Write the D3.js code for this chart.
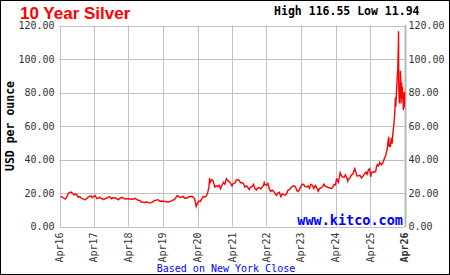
<!DOCTYPE html>
<html>
<head>
<meta charset="utf-8">
<script src="https://cdn.jsdelivr.net/npm/d3@7"></script>
<style>
  body { margin: 0; background: #fff; }
  svg { display: block; }
</style>
</head>
<body>
<div class="canvas"></div>
<script>
const title = "10 Year Silver";
const highLow = "High 116.55 Low 11.94";

const yTicks = [0, 20, 40, 60, 80, 100, 120];
const xTicks = ["2016-04-01", "2017-04-01", "2018-04-01", "2019-04-01", "2020-04-01",
  "2021-04-01", "2022-04-01", "2023-04-01", "2024-04-01", "2025-04-01", "2026-04-01"];
const xTickLabels = ["Apr16", "Apr17", "Apr18", "Apr19", "Apr20", "Apr21",
  "Apr22", "Apr23", "Apr24", "Apr25", "Apr26"];

// NY close (about two points a month, more in the spike)
const dates = [
  "2016-04-12", "2016-05-01", "2016-05-15", "2016-06-01", "2016-06-15", "2016-07-01", "2016-07-15", "2016-08-01", "2016-08-15", "2016-09-01", "2016-09-15", "2016-10-01", "2016-10-15", "2016-11-01", "2016-11-15", "2016-12-01", "2016-12-15",
  "2017-01-01", "2017-01-15", "2017-02-01", "2017-02-15", "2017-03-01", "2017-03-15", "2017-04-01", "2017-04-15", "2017-05-01", "2017-05-15", "2017-06-01", "2017-06-15", "2017-07-01", "2017-07-15", "2017-08-01", "2017-08-15", "2017-09-01", "2017-09-15", "2017-10-01", "2017-10-15", "2017-11-01", "2017-11-15", "2017-12-01", "2017-12-15",
  "2018-01-01", "2018-01-15", "2018-02-01", "2018-02-15", "2018-03-01", "2018-03-15", "2018-04-01", "2018-04-15", "2018-05-01", "2018-05-15", "2018-06-01", "2018-06-15", "2018-07-01", "2018-07-15", "2018-08-01", "2018-08-15", "2018-09-01", "2018-09-15", "2018-10-01", "2018-10-15", "2018-11-01", "2018-11-15", "2018-12-01", "2018-12-15",
  "2019-01-01", "2019-01-15", "2019-02-01", "2019-02-15", "2019-03-01", "2019-03-15", "2019-04-01", "2019-04-15", "2019-05-01", "2019-05-15", "2019-06-01", "2019-06-15", "2019-07-01", "2019-07-15", "2019-08-01", "2019-08-15", "2019-09-01", "2019-09-15", "2019-10-01", "2019-10-15", "2019-11-01", "2019-11-15", "2019-12-01", "2019-12-15",
  "2020-01-01", "2020-01-15", "2020-02-01", "2020-02-15", "2020-03-01", "2020-03-18", "2020-04-01", "2020-04-15", "2020-05-01", "2020-05-15", "2020-06-01", "2020-06-15", "2020-07-01", "2020-07-15", "2020-08-01", "2020-08-07", "2020-08-15", "2020-09-01", "2020-09-15", "2020-10-01", "2020-10-15", "2020-11-01", "2020-11-15", "2020-12-01", "2020-12-15",
  "2021-01-01", "2021-01-15", "2021-02-01", "2021-02-15", "2021-03-01", "2021-03-15", "2021-04-01", "2021-04-15", "2021-05-01", "2021-05-15", "2021-06-01", "2021-06-15", "2021-07-01", "2021-07-15", "2021-08-01", "2021-08-15", "2021-09-01", "2021-09-15", "2021-10-01", "2021-10-15", "2021-11-01", "2021-11-15", "2021-12-01", "2021-12-15",
  "2022-01-01", "2022-01-15", "2022-02-01", "2022-02-15", "2022-03-01", "2022-03-08", "2022-03-15", "2022-04-01", "2022-04-15", "2022-05-01", "2022-05-15", "2022-06-01", "2022-06-15", "2022-07-01", "2022-07-15", "2022-08-01", "2022-08-15", "2022-09-01", "2022-09-15", "2022-10-01", "2022-10-15", "2022-11-01", "2022-11-15", "2022-12-01", "2022-12-15",
  "2023-01-01", "2023-01-15", "2023-02-01", "2023-02-15", "2023-03-01", "2023-03-15", "2023-04-01", "2023-04-15", "2023-05-01", "2023-05-15", "2023-06-01", "2023-06-15", "2023-07-01", "2023-07-15", "2023-08-01", "2023-08-15", "2023-09-01", "2023-09-15", "2023-10-01", "2023-10-15", "2023-11-01", "2023-11-15", "2023-12-01", "2023-12-15",
  "2024-01-01", "2024-01-15", "2024-02-01", "2024-02-15", "2024-03-01", "2024-03-15", "2024-04-01", "2024-04-12", "2024-04-20", "2024-05-01", "2024-05-20", "2024-06-01", "2024-06-15", "2024-07-01", "2024-07-15", "2024-08-01", "2024-08-08", "2024-08-15", "2024-09-01", "2024-09-15", "2024-10-01", "2024-10-22", "2024-11-01", "2024-11-15", "2024-12-01", "2024-12-15",
  "2025-01-01", "2025-01-15", "2025-02-01", "2025-02-15", "2025-03-01", "2025-03-15", "2025-03-28", "2025-04-08", "2025-04-15", "2025-05-01", "2025-05-15", "2025-06-01", "2025-06-09", "2025-06-18", "2025-07-01", "2025-07-14", "2025-08-01", "2025-08-15", "2025-09-01", "2025-09-15", "2025-10-01", "2025-10-09", "2025-10-16", "2025-10-22", "2025-11-03", "2025-11-13", "2025-11-21", "2025-12-01", "2025-12-10", "2025-12-17", "2025-12-26", "2025-12-30",
  "2026-01-06", "2026-01-13", "2026-01-20", "2026-01-26", "2026-01-28", "2026-01-30", "2026-02-03", "2026-02-06", "2026-02-10", "2026-02-13", "2026-02-17", "2026-02-20", "2026-02-25", "2026-03-02", "2026-03-05", "2026-03-10", "2026-03-13", "2026-03-17", "2026-03-20", "2026-03-24", "2026-03-27", "2026-03-31", "2026-04-02"
];
const prices = [
  17.9, 17.6, 17.0, 16.4, 17.4, 19.5, 20.3, 20.6, 19.8, 18.8, 19.2, 19.0, 17.5, 17.9, 17.0, 16.6, 16.2,
  16.0, 16.8, 17.5, 18.0, 18.3, 17.2, 18.2, 18.4, 16.6, 16.9, 17.5, 16.7, 16.6, 16.0, 16.7, 17.0, 17.7, 17.8, 16.6, 17.2, 17.0, 17.1, 16.5, 15.9,
  16.9, 17.3, 17.2, 16.6, 16.4, 16.6, 16.3, 16.6, 16.3, 16.4, 16.4, 16.8, 16.0, 15.6, 15.5, 14.6, 14.5, 14.2, 14.6, 14.6, 14.2, 14.1, 14.3, 14.7,
  15.5, 15.6, 16.0, 15.8, 15.0, 15.2, 15.1, 15.0, 14.9, 14.6, 14.6, 15.0, 15.3, 15.8, 16.2, 17.2, 18.5, 17.9, 17.3, 17.6, 18.0, 16.9, 17.0, 17.0,
  17.9, 17.8, 18.0, 17.6, 16.6, 11.9, 14.0, 15.2, 15.0, 16.5, 18.0, 17.5, 18.0, 19.5, 24.0, 28.9, 26.5, 28.0, 27.0, 23.5, 24.3, 23.8, 24.6, 22.6, 24.5,
  26.4, 25.3, 28.5, 27.4, 26.7, 26.0, 24.2, 25.8, 25.9, 27.7, 28.0, 27.5, 26.0, 26.3, 25.6, 23.5, 24.2, 23.4, 22.0, 23.5, 23.9, 25.2, 22.6, 21.8,
  23.1, 23.1, 22.4, 23.6, 24.5, 26.2, 25.0, 24.7, 25.8, 22.6, 21.0, 21.7, 21.1, 19.8, 18.5, 20.1, 20.5, 17.8, 19.4, 19.0, 18.7, 19.5, 21.8, 22.0, 23.1,
  24.0, 24.3, 23.8, 21.6, 20.9, 22.0, 24.0, 25.3, 25.0, 23.8, 23.6, 24.3, 22.8, 25.2, 24.5, 22.6, 24.5, 23.1, 21.0, 22.6, 23.0, 23.8, 25.3, 23.8,
  23.8, 23.1, 23.2, 22.6, 23.2, 25.1, 24.9, 28.8, 27.5, 26.3, 32.1, 30.4, 29.5, 29.4, 30.9, 28.7, 27.0, 28.2, 28.9, 30.7, 31.3, 34.5, 32.6, 30.2, 30.3, 30.5,
  29.0, 30.0, 31.3, 32.5, 31.2, 33.8, 34.5, 29.6, 32.0, 32.6, 32.3, 33.0, 36.0, 37.0, 36.2, 38.3, 36.8, 38.0, 40.7, 42.5, 46.5, 50.5, 53.6, 48.0, 47.8, 53.0, 49.5, 57.0, 61.0, 66.0, 77.0, 71.5,
  80.0, 88.0, 94.0, 108.0, 116.55, 85.0, 78.0, 73.5, 84.0, 77.0, 93.0, 88.0, 73.5, 86.0, 79.0, 83.4, 76.0, 80.0, 69.5, 74.0, 77.5, 71.0, 80.5
];

const width = 450;
const height = 275;
const plotLeft = 59.5;
const plotRight = 404.5;
const plotTop = 25.5;
const plotBottom = 226.5;
const gridColor = "#c0c0c0";
const labelColor = "#333";
const mono = "'DejaVu Sans Mono', monospace";

const svg = d3.select(".canvas").append("svg")
  .attr("width", width)
  .attr("height", height);

const parse = d3.timeParse("%Y-%m-%d");
const data = dates.map((d, i) => ({ date: parse(d), price: prices[i] }));

const x = d3.scaleTime()
  .domain([parse(xTicks[0]), parse(xTicks[xTicks.length - 1])])
  .range([plotLeft, plotRight]);
const y = d3.scaleLinear()
  .domain([0, 120])
  .range([plotBottom, plotTop]);

function drawFrame() {
  svg.append("rect").attr("x", 0).attr("y", 0)
    .attr("width", width).attr("height", height)
    .attr("fill", "#fff");

  // Grid
  svg.append("g").selectAll("line").data(yTicks).join("line")
    .attr("x1", plotLeft).attr("x2", plotRight)
    .attr("y1", d => Math.round(y(d)) + 0.5)
    .attr("y2", d => Math.round(y(d)) + 0.5)
    .attr("stroke", gridColor);

  svg.append("g").selectAll("line").data(xTicks).join("line")
    .attr("x1", d => Math.round(x(parse(d))) + 0.5)
    .attr("x2", d => Math.round(x(parse(d))) + 0.5)
    .attr("y1", plotTop).attr("y2", plotBottom)
    .attr("stroke", gridColor);

  // Thick right edge
  svg.append("line").attr("x1", plotRight + 1).attr("x2", plotRight + 1)
    .attr("y1", plotTop - 0.5).attr("y2", plotBottom + 0.5)
    .attr("stroke", "#b8b8b8")
    .attr("stroke-width", 2);
}

function drawLabels() {
  // Y labels, both sides
  const yl = svg.append("g")
    .attr("font-family", mono)
    .attr("font-size", 10)
    .attr("fill", labelColor);
  yl.selectAll(".l").data(yTicks).join("text")
    .attr("class", "l")
    .attr("x", plotLeft - 5)
    .attr("y", d => y(d) + 3.5)
    .attr("text-anchor", "end")
    .text(d => d3.format(".2f")(d));
  yl.selectAll(".r").data(yTicks).join("text")
    .attr("class", "r")
    .attr("x", plotRight + 4)
    .attr("y", d => y(d) + 3.5)
    .text(d => d3.format(".2f")(d));

  // X labels, turned
  svg.append("g")
    .attr("font-family", mono)
    .attr("font-size", 10)
    .attr("fill", labelColor)
    .selectAll("text").data(xTicks).join("text")
    .attr("transform", d => `translate(${x(parse(d)) + 3.5},${plotBottom + 6}) rotate(-90)`)
    .attr("text-anchor", "end")
    .attr("font-weight", (d, i) => i === xTicks.length - 1 ? "bold" : "normal")
    .text((d, i) => xTickLabels[i]);

  svg.append("text")
    .attr("transform", `translate(14,${(plotTop + plotBottom) / 2}) rotate(-90)`)
    .attr("text-anchor", "middle")
    .attr("font-family", mono)
    .attr("font-size", 11.5)
    .attr("font-weight", "bold")
    .attr("fill", "#000")
    .text("USD per ounce");

  svg.append("text").attr("x", 20).attr("y", 18.5)
    .attr("font-family", "'Liberation Sans', Arial, sans-serif")
    .attr("font-size", 17)
    .attr("font-weight", "bold")
    .attr("fill", "#ff0000")
    .text(title);

  svg.append("text").attr("x", 419.5).attr("y", 15)
    .attr("text-anchor", "end")
    .attr("font-family", mono)
    .attr("font-size", 11.5)
    .attr("font-weight", "bold")
    .attr("fill", "#000")
    .text(highLow);

  svg.append("text").attr("x", 403).attr("y", 225)
    .attr("text-anchor", "end")
    .attr("font-family", mono)
    .attr("font-size", 13.5)
    .attr("font-weight", "bold")
    .attr("fill", "#0000ff")
    .text("www.kitco.com");

  svg.append("text").attr("x", 226).attr("y", 271.5)
    .attr("text-anchor", "middle")
    .attr("font-family", mono)
    .attr("font-size", 10)
    .attr("fill", "#0000ff")
    .text("Based on New York Close");
}

function drawPrice() {
  const line = d3.line()
    .x(d => x(d.date))
    .y(d => y(d.price));
  svg.append("path").datum(data)
    .attr("d", line)
    .attr("fill", "none")
    .attr("stroke", "#ff0000")
    .attr("stroke-width", 1.4)
    .attr("stroke-linejoin", "miter");
}

function drawBorder() {
  svg.append("rect").attr("x", 0.5).attr("y", 0.5)
    .attr("width", width - 1).attr("height", height - 1)
    .attr("fill", "none")
    .attr("stroke", "#000");
}

function main() {
  drawFrame();
  drawLabels();
  drawPrice();
  drawBorder();
}

main();
</script>
</body>
</html>
